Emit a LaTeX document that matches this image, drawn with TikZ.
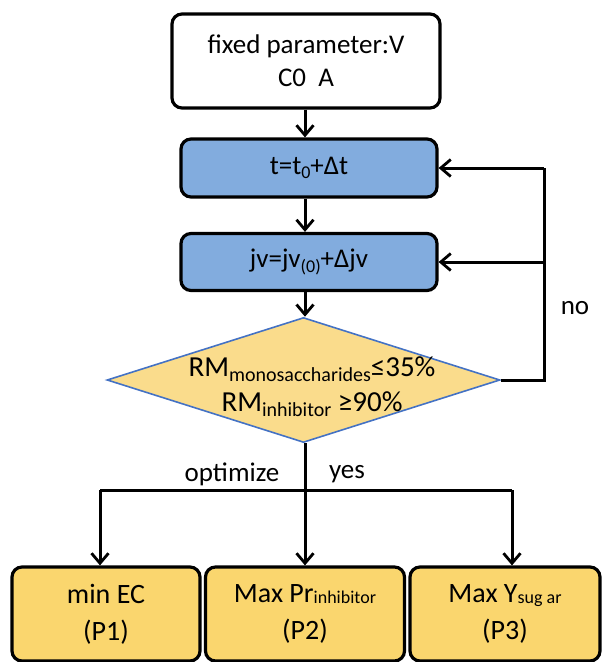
\documentclass[tikz,border=0pt]{standalone}
\usepackage{fontspec}
\setmainfont{Carlito}
\usetikzlibrary{arrows.meta,shapes.geometric}
\definecolor{boxblue}{RGB}{130,172,222}
\definecolor{boxyel}{RGB}{250,214,110}
\definecolor{diafill}{RGB}{250,220,140}
\definecolor{diaedge}{RGB}{68,114,196}
\newcommand{\mysub}[1]{\raisebox{-0.35ex}{\fontsize{18}{18}\selectfont #1}}
\newcommand{\mybigsub}[1]{\raisebox{-0.35ex}{\fontsize{20}{20}\selectfont #1}}
\newcommand{\mylowsub}[1]{\raisebox{-0.1ex}{\fontsize{18}{18}\selectfont #1}}
\begin{document}
\begin{tikzpicture}[x=1pt,y=-1pt,
  every node/.style={font=\fontsize{27}{33}\selectfont, align=center, inner sep=0pt},
  procbox/.style={draw=black, line width=3.2pt, rounded corners=10pt},
  conn/.style={line width=3pt, -{Straight Barb[length=10pt,width=17pt,line width=2.8pt]}},
  plain/.style={line width=3pt}
]
\useasboundingbox (0,0) rectangle (607,662);
\node[procbox, fill=white, minimum width=268pt, minimum height=94pt] (fix) at (306,61) {fixed parameter:V\\C0\ \ A};
\node[procbox, fill=boxblue, minimum width=256pt, minimum height=58pt] (t) at (309,168) {t=t\mysub{0}+Δt};
\node[procbox, fill=boxblue, minimum width=256pt, minimum height=57pt] (jv) at (309,262) {jv=jv\mysub{(0)}+Δjv};
\node[diamond, draw=diaedge, line width=1.6pt, fill=diafill, minimum width=393pt, minimum height=125pt, aspect=3.14] (dia) at (303.5,380) {};
\node[font=\fontsize{29}{35}\selectfont] (dtext) at (312,387) {RM\mybigsub{monosaccharides}≤35\%\\RM\mybigsub{inhibitor} ≥90\%};
\node[procbox, fill=boxyel, minimum width=188pt, minimum height=94pt, font=\fontsize{28}{37}\selectfont] (p1) at (106,614) {min EC\\(P1)};
\node[procbox, fill=boxyel, minimum width=199pt, minimum height=94pt, font=\fontsize{28}{37}\selectfont] (p2) at (305,614) {Max Pr\mylowsub{inhibitor}\\(P2)};
\node[procbox, fill=boxyel, minimum width=190pt, minimum height=94pt, font=\fontsize{28}{37}\selectfont] (p3) at (505,614) {Max Y\mylowsub{sug ar}\\(P3)};
\coordinate (jn) at (305,490);
\coordinate (jl) at (100,490);
\coordinate (jr) at (512,490);
\coordinate (rt) at (544,380);
\coordinate (rtop) at (544,168);
\coordinate (rmid) at (544,262);
\draw[conn] (fix.south -| 305,0) -- (t.north -| 305,0);
\draw[conn] (t.south -| 305,0) -- (jv.north -| 305,0);
\draw[conn] (jv.south -| 305,0) -- (dia.north -| 305,0);
\draw[plain] (dia.east) -- (rt) -- (rtop);
\draw[conn] (rtop) -- (t.east);
\draw[conn] (rmid) -- (jv.east);
\draw[plain] (dia.south -| jn) -- (jn);
\draw[plain] (jl) -- (jr);
\draw[conn] (jl) -- (jl |- p1.north);
\draw[conn] (jn) -- (p2.north);
\draw[conn] (jr) -- (jr |- p3.north);
\node (no) at (575,308) {no};
\node (opt) at (232,474) {optimize};
\node (yes) at (347,474) {yes};
\end{tikzpicture}
\end{document}
